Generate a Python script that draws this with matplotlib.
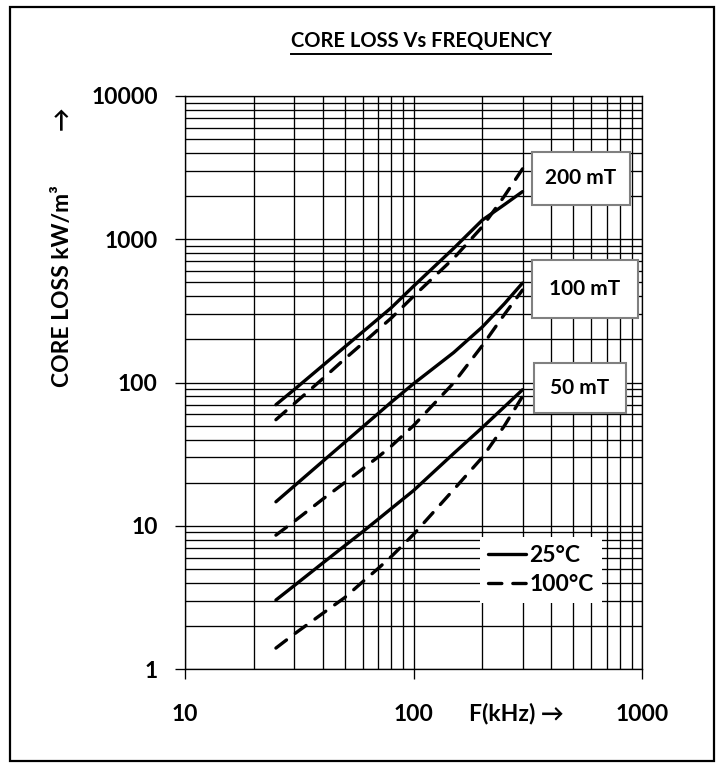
import matplotlib
matplotlib.use("Agg")

import matplotlib.pyplot as plt
from matplotlib.lines import Line2D
from matplotlib.patches import Rectangle

plt.rcParams["font.family"] = ["Lato", "DejaVu Sans"]
plt.rcParams["font.weight"] = "bold"

# frequency points (kHz)
freq = [25, 30, 40, 50, 60, 70, 80, 100, 150, 200, 250, 300]

# core loss (kW/m^3)
loss_200mT_25C = [70, 89, 131, 177, 226, 278, 333, 470, 865, 1360, 1745, 2150]
loss_200mT_100C = [55, 71, 106, 146, 188, 234, 282, 400, 737, 1222, 2004, 3100]
loss_100mT_25C = [14.7, 18.9, 28.1, 38.2, 49.1, 60.7, 73, 98, 162, 244, 355, 495]
loss_100mT_100C = [8.6, 10.7, 15.3, 20.0, 25.0, 30.2, 36.0, 50, 99.5, 181, 299, 442]
loss_50mT_25C = [3.03, 3.81, 5.48, 7.25, 9.1, 11.1, 13.2, 17.6, 32, 48.5, 67.7, 89]
loss_50mT_100C = [1.40, 1.75, 2.44, 3.15, 4.07, 5.03, 6.1, 8.7, 17.9, 30, 49.9, 80]

x_ticks = [10, 100, 1000]
x_tick_labels = ["10", "100", "1000"]
y_ticks = [1, 10, 100, 1000, 10000]
y_tick_labels = ["1", "10", "100", "1000", "10000"]

flux_labels = ["200 mT", "100 mT", "50 mT"]
temp_labels = ["25°C", "100°C"]

W, H = 722, 767


def fig_xy(px, py):
    # pixel position (from top-left) -> figure fraction
    return px / W, 1 - py / H


fig = plt.figure(figsize=(W / 100, H / 100), dpi=100)
ax = fig.add_axes([185 / W, 98 / H, 457 / W, 573 / H])

ax.set_xscale("log")
ax.set_yscale("log")
ax.set_xlim(10, 1000)
ax.set_ylim(1, 10000)

ax.grid(which="both", color="black", linewidth=0.95)
ax.set_axisbelow(True)

lw = 2.4
dash = (4.0, 3.3)
l25, = ax.plot(freq, loss_200mT_25C, color="black", lw=lw, solid_capstyle="round", label=temp_labels[0])
l100, = ax.plot(freq, loss_200mT_100C, color="black", lw=lw, dashes=dash, dash_capstyle="round", label=temp_labels[1])
ax.plot(freq, loss_100mT_25C, color="black", lw=lw, solid_capstyle="round")
ax.plot(freq, loss_100mT_100C, color="black", lw=lw, dashes=dash, dash_capstyle="round")
ax.plot(freq, loss_50mT_25C, color="black", lw=lw, solid_capstyle="round")
ax.plot(freq, loss_50mT_100C, color="black", lw=lw, dashes=dash, dash_capstyle="round")

ax.set_xticks(x_ticks, labels=x_tick_labels)
ax.set_yticks(y_ticks, labels=y_tick_labels)
ax.tick_params(which="minor", length=0)
ax.tick_params(which="major", direction="out", length=7.5, width=0.95, labelsize=16.5)
ax.tick_params(axis="x", pad=18)
ax.tick_params(axis="y", pad=12)
for sp in ax.spines.values():
    sp.set_linewidth(0.95)

leg = ax.legend(handles=[l25, l100], loc="upper left",
                bbox_to_anchor=fig_xy(480, 537), bbox_transform=fig.transFigure,
                fontsize=16.5, frameon=True, fancybox=False, framealpha=1,
                edgecolor="none", facecolor="white", handlelength=1.65,
                handletextpad=0.15, labelspacing=0.35, borderpad=0.35,
                borderaxespad=0)

# boxed flux density labels
boxes = [(532, 152, 630, 205), (532, 260, 638, 318), (534, 363, 626, 413)]
for (x0, y0, x1, y1), txt in zip(boxes, flux_labels):
    fx0, fy1 = fig_xy(x0, y1)
    fx1, fy0 = fig_xy(x1, y0)
    fig.add_artist(Rectangle((fx0, fy1), fx1 - fx0, fy0 - fy1, transform=fig.transFigure,
                             facecolor="white", edgecolor="#808080", lw=1.5, zorder=5))
    cx, cy = fig_xy((x0 + x1) / 2, (y0 + y1) / 2)
    fig.text(cx, cy, txt, ha="center", va="center", fontsize=15, zorder=6)

# axis labels
fig.text(*fig_xy(62, 286), "CORE LOSS kW/m³", rotation=90, ha="center", va="center", fontsize=16.5)
fig.text(*fig_xy(62, 118), "→", rotation=90, ha="center", va="center", fontsize=17)
fig.text(*fig_xy(516, 714), "F(kHz) →", ha="center", va="center", fontsize=16.5)

# underlined title
title = fig.text(*fig_xy(421, 41), "CORE LOSS Vs FREQUENCY", ha="center", va="center", fontsize=14.5)
fig.canvas.draw()
bb = title.get_window_extent()
uy = (bb.y0 - 3) / H
fig.add_artist(Line2D([bb.x0 / W, bb.x1 / W], [uy, uy], transform=fig.transFigure,
                      color="black", lw=1.4))

# outer frame
fx0, fy1 = fig_xy(10, 761)
fx1, fy0 = fig_xy(714, 7)
fig.add_artist(Rectangle((fx0, fy1), fx1 - fx0, fy0 - fy1, transform=fig.transFigure,
                         facecolor="none", edgecolor="black", lw=1.6, zorder=10))

fig.savefig("out.png", dpi=100)
plt.close("all")
